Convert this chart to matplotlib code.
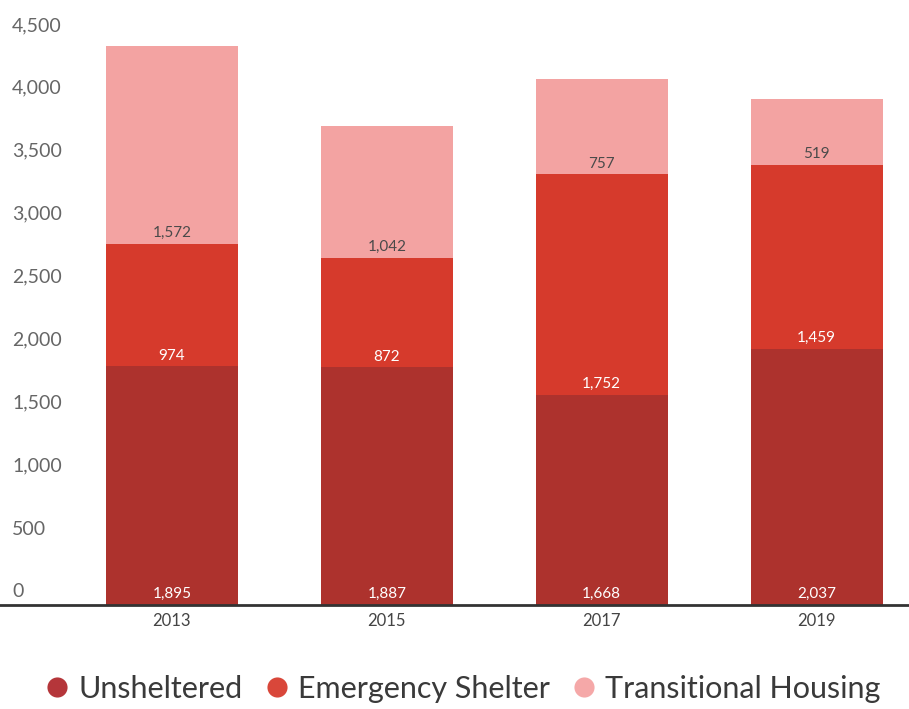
import matplotlib.pyplot as plt
import numpy as np
from matplotlib.lines import Line2D
from matplotlib.transforms import blended_transform_factory, offset_copy

years = ['2013', '2015', '2017', '2019']
unsheltered = [1895, 1887, 1668, 2037]
emergency = [974, 872, 1752, 1459]
transitional = [1572, 1042, 757, 519]
series_names = ['Unsheltered', 'Emergency Shelter', 'Transitional Housing']
yticks = [0, 500, 1000, 1500, 2000, 2500, 3000, 3500, 4000, 4500]

colors = ['#ad322d', '#d63a2c', '#f3a3a2']
label_colors = ['white', 'white', '#4a4a4a']

plt.rcParams['font.family'] = ['Lato', 'DejaVu Sans']

fig = plt.figure(figsize=(9.09, 7.09), dpi=100)
ax = fig.add_axes([0, 0.1467, 1, 0.8533])

x = np.arange(len(years))
bottom = np.zeros(len(years))
for vals, c, tc in zip([unsheltered, emergency, transitional], colors, label_colors):
    ax.bar(x, vals, width=0.615, bottom=bottom, color=c, zorder=2)
    for xi, b, v in zip(x, bottom, vals):
        ax.text(xi, b + 85, f'{v:,}', ha='center', va='center',
                fontsize=11, color=tc, zorder=3)
    bottom = bottom + np.array(vals)

ax.set_xlim(-0.8, 3.43)
ax.set_ylim(0, 4805)
for s in ax.spines.values():
    s.set_visible(False)
ax.set_xticks([])
ax.set_yticks([])

# baseline
ax.axhline(0, color='#333333', lw=2, zorder=4, clip_on=False)

# y tick labels sit above each level, left side
trans = blended_transform_factory(fig.transFigure, ax.transData)
for t in yticks:
    ax.text(12 / 909, t, f'{t:,}', transform=offset_copy(trans, fig=fig, y=13, units='dots'),
            ha='left', va='center', fontsize=14, color='#666666')

# x tick labels
for xi, yr in zip(x, years):
    ax.text(xi, 0, yr, transform=offset_copy(ax.transData, fig=fig, y=-16, units='dots'),
            ha='center', va='center', fontsize=12, color='#444444')

handles = [Line2D([], [], marker='o', ls='', markersize=14.5, color=c, markeredgewidth=0)
           for c in ['#b5363a', '#d9473a', '#f5a8a8']]
fig.legend(handles, series_names, loc='center', bbox_to_anchor=(0.51, 0.028),
           ncol=3, frameon=False, fontsize=22, handletextpad=0.35, columnspacing=0.75,
           handlelength=0.7, labelcolor='#3a3a3a', borderaxespad=0)

fig.savefig('out.png', dpi=100)
